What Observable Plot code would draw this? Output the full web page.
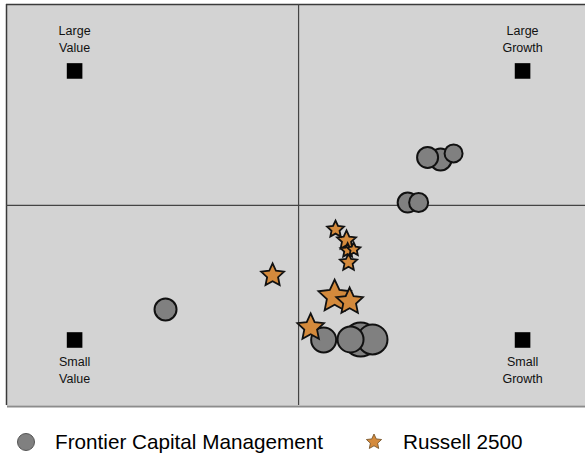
<!DOCTYPE html>
<html>
<head>
<meta charset="utf-8">
<script src="https://cdn.jsdelivr.net/npm/d3@7"></script>
<script src="https://cdn.jsdelivr.net/npm/@observablehq/plot@0.6"></script>
<style>
  html, body { margin: 0; padding: 0; background: #fff; }
  #wrap { width: 585px; height: 457px; position: relative; font-family: Arial, "Liberation Sans", sans-serif; }
  #legend { position: absolute; left: 0; top: 410px; }
</style>
</head>
<body>
<div id="wrap"><div id="chart"></div><svg id="legend" width="585" height="47"></svg></div>
<script>
// Style box: x = value(-) .. growth(+), y = small(-) .. large(+)
const cornerLabels = ["Large\nValue", "Large\nGrowth", "Small\nValue", "Small\nGrowth"];
const cornerX = [-100, 100, -100, 100];
const cornerY = [100, 100, -100, -100];

// Frontier Capital Management
const frontierX = [57.6, 69.2, 63.4, 53.6, 48.7, -59.4, 11.2, 23.2, 33.0, 27.7];
const frontierY = [35.7, 38.7, 34.2, 2.2, 2.2, -77.3, -100.0, -99.6, -99.6, -99.6];
const frontierSize = [10.5, 9, 11, 9.5, 10, 11, 12.5, 13, 15, 17];

// Russell 2500
const russellX = [16.5, 21.4, 24.6, 21.9, 22.3, -11.6, 22.8, 16.1, 5.4];
const russellY = [-17.8, -26.0, -32.7, -33.5, -42.4, -52.0, -71.4, -67.7, -90.7];
const russellSize = [8.8, 10, 7, 7.5, 9, 12, 14, 17, 14];

const seriesNames = ["Frontier Capital Management", "Russell 2500"];

const xDomain = [-130.4, 128.1];
const yDomain = [-148.7, 149.4];

const corners = cornerLabels.map((t, i) => ({label: t, x: cornerX[i], y: cornerY[i]}));
const frontier = frontierX.map((x, i) => ({x, y: frontierY[i], s: frontierSize[i]}));
const russell = russellX.map((x, i) => ({x, y: russellY[i], s: russellSize[i]}));

// Fat five-pointed star; outer radius = sqrt(size/PI) (i.e. equals r)
const fatStar = {
  draw(context, size) {
    const R = Math.sqrt(size / Math.PI);
    const ri = R * 0.48;
    for (let i = 0; i < 10; ++i) {
      const a = -Math.PI / 2 + i * Math.PI / 5;
      const rr = i % 2 ? ri : R;
      const px = rr * Math.cos(a), py = rr * Math.sin(a);
      if (i === 0) context.moveTo(px, py); else context.lineTo(px, py);
    }
    context.closePath();
  }
};

const chart = Plot.plot({
  width: 585,
  height: 410,
  marginLeft: 6,
  marginRight: 0,
  marginTop: 4,
  marginBottom: 5,
  x: {domain: xDomain, axis: null},
  y: {domain: yDomain, axis: null},
  r: {type: "identity"},
  style: {background: "#fff", fontFamily: "Arial, 'Liberation Sans', sans-serif"},
  marks: [
    Plot.frame({fill: "#d3d3d3", stroke: null}),
    Plot.ruleY([yDomain[0]], {stroke: "#8c8c8c", strokeWidth: 2, dy: 1, x1: xDomain[0], x2: xDomain[1], dx: 1}),
    Plot.ruleX([xDomain[0]], {stroke: "#3a3a3a", strokeWidth: 1.5}),
    Plot.ruleY([yDomain[1]], {stroke: "#3a3a3a", strokeWidth: 1.5}),
    Plot.ruleX([0], {stroke: "#444", strokeWidth: 1.2}),
    Plot.ruleY([0], {stroke: "#444", strokeWidth: 1.2}),
    Plot.dot(corners, {x: "x", y: "y", symbol: "square", r: 8.8, fill: "#000", stroke: null}),
    Plot.text(corners.filter(d => d.y > 0), {x: "x", y: "y", text: "label", lineAnchor: "bottom", dy: -19, fontSize: 12.5, lineHeight: 1.35, fill: "#111"}),
    Plot.text(corners.filter(d => d.y < 0), {x: "x", y: "y", text: "label", lineAnchor: "top", dy: 14.5, fontSize: 12.5, lineHeight: 1.35, fill: "#111"}),
    Plot.dot(frontier, {x: "x", y: "y", r: "s", fill: "#808080", stroke: "#111", strokeWidth: 2, symbol: "circle"}),
    Plot.dot(russell, {x: "x", y: "y", r: "s", fill: "#d48a3c", stroke: "#111", strokeWidth: 1.8, symbol: fatStar})
  ]
});
document.getElementById("chart").appendChild(chart);

// Legend
const lg = d3.select("#legend");
const g1 = lg.append("g").attr("transform", "translate(26,32)");
g1.append("circle").attr("r", 8.5).attr("fill", "#808080").attr("stroke", "#555").attr("stroke-width", 1);
lg.append("text").attr("x", 55).attr("y", 39).attr("font-size", 20.7).attr("fill", "#000")
  .attr("font-family", "Arial, 'Liberation Sans', sans-serif").text(seriesNames[0]);
lg.append("path").attr("transform", "translate(374,32)")
  .attr("d", d3.symbol(fatStar, Math.PI * 8 * 8)())
  .attr("fill", "#d48a3c").attr("stroke", "#6b4a20").attr("stroke-width", 0.8);
lg.append("text").attr("x", 403).attr("y", 39).attr("font-size", 20.7).attr("fill", "#000")
  .attr("font-family", "Arial, 'Liberation Sans', sans-serif").text(seriesNames[1]);
</script>
</body>
</html>
